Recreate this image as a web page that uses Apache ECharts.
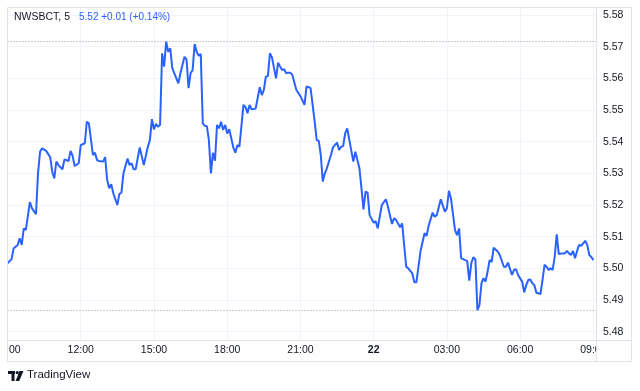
<!DOCTYPE html>
<html>
<head>
<meta charset="utf-8">
<script src="https://cdn.jsdelivr.net/npm/echarts@6/dist/echarts.min.js"></script>
<style>
html,body{margin:0;padding:0;background:#fff;}
#c{width:640px;height:391px;}
</style>
</head>
<body>
<div id="c"></div>
<script>
// ---- data (5-minute bars, 21st 09:00 -> 22nd 09:00) ----
const times = [
"09:00","09:10","09:15","09:25","09:30","09:35","09:40","09:45","09:55","10:00",
"10:10","10:15","10:20","10:25","10:35","10:45","10:50","10:55","11:00","11:05",
"11:15","11:20","11:30","11:35","11:40","11:45","11:55","12:00","12:10","12:15",
"12:20","12:30","12:35","12:40","12:45","12:55","13:00","13:05","13:10","13:15",
"13:20","13:30","13:35","13:40","13:45","13:55","14:00","14:05","14:10","14:15",
"14:25","14:35","14:45","14:50","14:55","15:00","15:05","15:10","15:15","15:20",
"15:25","15:30","15:35","15:40","15:45","16:00","16:05","16:15","16:20","16:25",
"16:30","16:35","16:40","16:45","16:50","16:55","17:00","17:05","17:10","17:15",
"17:20","17:25","17:30","17:35","17:40","17:45","17:50","17:55","18:00","18:05",
"18:10","18:15","18:20","18:25","18:30","18:40","18:45","18:50","18:55","19:00",
"19:10","19:20","19:25","19:30","19:35","19:40","19:45","19:50","20:00","20:05",
"20:10","20:15","20:20","20:25","20:30","20:35","20:40","20:50","21:00","21:10",
"21:15","21:20","21:25","21:35","21:40","21:45","21:50","21:55","22:00","22:05",
"22:15","22:20","22:30","22:35","22:40","22:45","22:50","22:55","23:10","23:15",
"23:25","23:30","23:35","23:40","23:45","23:50","00:00","00:05","00:10","00:20",
"00:30","00:35","00:45","00:50","00:55","01:05","01:10","01:20","01:25","01:35",
"01:40","01:45","01:55","02:05","02:10","02:15","02:25","02:30","02:35","02:45",
"02:55","03:00","03:05","03:10","03:20","03:25","03:30","03:35","03:45","03:50",
"03:55","04:00","04:05","04:10","04:15","04:20","04:25","04:30","04:35","04:40",
"04:45","04:50","04:55","05:05","05:10","05:20","05:25","05:30","05:40","05:45",
"05:50","05:55","06:05","06:10","06:15","06:20","06:25","06:30","06:35","06:40",
"06:50","06:55","07:00","07:05","07:10","07:15","07:20","07:25","07:30","07:35",
"07:40","07:50","07:55","08:00","08:05","08:10","08:15","08:20","08:25","08:30",
"08:40","08:45","08:50","08:55","09:00"
];
const prices = [
5.5016,5.5029,5.5063,5.5074,5.5095,5.5074,5.5126,5.5121,5.5209,5.5190,
5.5171,5.5300,5.5368,5.5379,5.5371,5.5351,5.5305,5.5284,5.5337,5.5326,
5.5313,5.5344,5.5339,5.5371,5.5355,5.5323,5.5332,5.5389,5.5395,5.5463,
5.5458,5.5358,5.5365,5.5342,5.5339,5.5337,5.5351,5.5279,5.5253,5.5266,
5.5237,5.5200,5.5235,5.5239,5.5300,5.5347,5.5326,5.5332,5.5313,5.5313,
5.5382,5.5326,5.5384,5.5405,5.5471,5.5439,5.5456,5.5447,5.5453,5.5679,
5.5637,5.5716,5.5684,5.5695,5.5632,5.5584,5.5616,5.5668,5.5660,5.5569,
5.5616,5.5626,5.5708,5.5684,5.5671,5.5677,5.5458,5.5450,5.5449,5.5405,
5.5300,5.5365,5.5340,5.5453,5.5442,5.5463,5.5437,5.5453,5.5426,5.5439,
5.5411,5.5382,5.5365,5.5389,5.5384,5.5516,5.5509,5.5490,5.5516,5.5502,
5.5505,5.5572,5.5547,5.5563,5.5605,5.5607,5.5679,5.5666,5.5600,5.5649,
5.5637,5.5626,5.5629,5.5616,5.5618,5.5618,5.5611,5.5563,5.5544,5.5516,
5.5574,5.5572,5.5569,5.5463,5.5405,5.5403,5.5358,5.5274,5.5300,5.5316,
5.5358,5.5382,5.5397,5.5374,5.5384,5.5386,5.5426,5.5442,5.5337,5.5368,
5.5316,5.5253,5.5186,5.5242,5.5239,5.5168,5.5144,5.5149,5.5126,5.5200,
5.5218,5.5195,5.5140,5.5158,5.5153,5.5130,5.5142,5.5005,5.5000,5.4984,
5.4956,5.4956,5.5053,5.5111,5.5102,5.5134,5.5176,5.5163,5.5168,5.5218,
5.5179,5.5190,5.5245,5.5221,5.5121,5.5105,5.5126,5.5032,5.5026,5.5023,
5.4961,5.5016,5.5035,5.5029,5.4868,5.4884,5.4953,5.4969,5.4958,5.4989,
5.5026,5.5020,5.5065,5.5053,5.5042,5.5005,5.5005,5.5018,5.4979,5.4995,
5.4997,5.4979,5.4958,5.4924,5.4947,5.4963,5.4965,5.4953,5.4947,5.4923,
5.4919,5.4963,5.5011,5.5005,5.4995,5.5000,5.4995,5.5036,5.5107,5.5045,
5.5047,5.5047,5.5055,5.5047,5.5042,5.5055,5.5032,5.5055,5.5074,5.5071,
5.5087,5.5074,5.5042,5.5036,5.5026
];
const priceTicks = [5.48,5.49,5.50,5.51,5.52,5.53,5.54,5.55,5.56,5.57,5.58];
const timeTicks = ["09:00","12:00","15:00","18:00","21:00","00:00","03:00","06:00","09:00"];
const dayLabel = "22";
const symbolText = "NWSBCT, 5";
const legendValues = "5.52 +0.01 (+0.14%)";

// ---- helpers ----
const START = 9 * 60;
function toMinutesSeq(list) {
  const out = []; let offset = 0; let prev = -1;
  list.forEach(s => {
    const [h, m] = s.split(':').map(Number);
    let v = ((h * 60 + m - START) % 1440 + 1440) % 1440 + offset;
    if (v < prev) { offset += 1440; v += 1440; }
    prev = v; out.push(v);
  });
  return out;
}
const tMin = toMinutesSeq(times);
const tickMin = toMinutesSeq(timeTicks);
const seriesData = tMin.map((t, i) => [t, prices[i]]);

const FONT = 'Liberation Sans, Arial, sans-serif';
const TXT = '#131722';
const BORDER = '#e0e3eb';
const GRID = '#f0f3fa';

const chart = echarts.init(document.getElementById('c'), null, {renderer: 'canvas'});
chart.setOption({
  animation: false,
  backgroundColor: '#ffffff',
  grid: {left: 7.5, right: 44, top: 8, bottom: 51, containLabel: false, outerBoundsMode: 'none'},
  xAxis: {
    type: 'value',
    min: 0,
    max: 1446.5,
    axisLine: {show: false},
    axisTick: {show: false, customValues: tickMin},
    splitLine: {show: true, lineStyle: {color: GRID, width: 1}},
    axisLabel: {
      customValues: tickMin,
      margin: 5,
      color: TXT,
      fontSize: 10.5,
      fontFamily: FONT,
      formatter: function (v) {
        const m = (Math.round(v) + START) % 1440;
        if (m === 0) return '{b|' + dayLabel + '}';
        const hh = String(Math.floor(m / 60)).padStart(2, '0');
        const mm = String(m % 60).padStart(2, '0');
        return hh + ':' + mm;
      },
      rich: {b: {fontWeight: 'bold', fontSize: 10.5, color: TXT, fontFamily: FONT}}
    }
  },
  yAxis: {
    type: 'value',
    position: 'right',
    min: 5.47737,
    max: 5.58221,
    axisLine: {show: false},
    axisTick: {show: false, customValues: priceTicks},
    splitLine: {show: true, lineStyle: {color: GRID, width: 1}},
    axisLabel: {
      customValues: priceTicks,
      margin: 7,
      color: TXT,
      fontSize: 10.5,
      fontFamily: FONT,
      formatter: v => v.toFixed(2)
    }
  },
  series: [{
    type: 'line',
    data: seriesData,
    showSymbol: false,
    symbol: 'none',
    lineStyle: {color: '#2962ff', width: 2},
    z: 5,
    markLine: {
      silent: true,
      precision: 4,
      symbol: ['none', 'none'],
      label: {show: false},
      lineStyle: {color: '#9598a1', type: [1, 2], width: 1},
      emphasis: {disabled: true},
      data: [{type: 'max', valueDim: 'y'}, {type: 'min', valueDim: 'y'}]
    }
  }],
  graphic: [
    // clip time labels at the pane edges
    {type: 'rect', z: 100, shape: {x: 0, y: 341, width: 8, height: 20}, style: {fill: '#fff'}},
    {type: 'rect', z: 100, shape: {x: 596.5, y: 341, width: 36, height: 20}, style: {fill: '#fff'}},
    // frame
    {type: 'rect', z: 101, shape: {x: 7.5, y: 7.5, width: 624, height: 354}, style: {fill: 'none', stroke: BORDER, lineWidth: 1}},
    {type: 'line', z: 101, shape: {x1: 596.5, y1: 7.5, x2: 596.5, y2: 361.5}, style: {stroke: BORDER, lineWidth: 1}},
    {type: 'line', z: 101, shape: {x1: 7.5, y1: 340.5, x2: 631.5, y2: 340.5}, style: {stroke: BORDER, lineWidth: 1}},
    // legend
    {type: 'text', z: 102, left: 14, top: 12, style: {text: symbolText, fill: TXT, fontSize: 10.5, fontFamily: FONT}},
    {type: 'text', z: 102, left: 79, top: 12, style: {text: legendValues, fill: '#2962ff', fontSize: 10, fontFamily: FONT}},
    // TradingView mark
    {type: 'rect', z: 102, shape: {x: 8, y: 371, width: 7, height: 3}, style: {fill: TXT}},
    {type: 'rect', z: 102, shape: {x: 11.5, y: 371, width: 3, height: 10}, style: {fill: TXT}},
    {type: 'circle', z: 102, shape: {cx: 17.3, cy: 372.6, r: 1.6}, style: {fill: TXT}},
    {type: 'polygon', z: 102, shape: {points: [[19.5, 371], [23.5, 371], [19.2, 381], [15.6, 381]]}, style: {fill: TXT}},
    {type: 'text', z: 102, left: 27, top: 369, style: {text: 'TradingView', fill: TXT, fontSize: 11.5, fontFamily: FONT}}
  ]
});
</script>
</body>
</html>
